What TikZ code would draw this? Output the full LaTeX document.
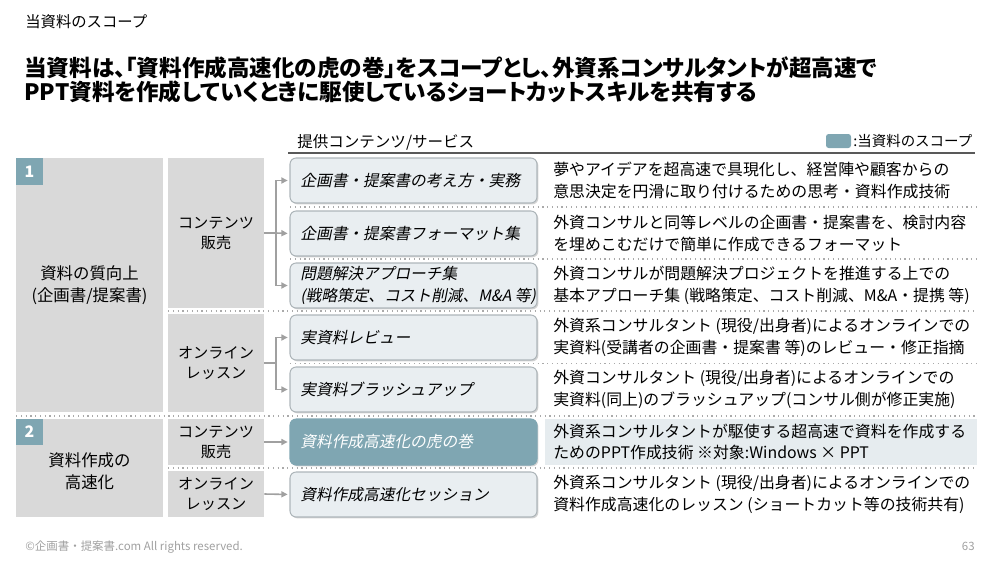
\documentclass[tikz,border=0pt]{standalone}
\usepackage{fontspec}
\setmainfont{Noto Sans CJK JP}
\newfontfamily\itfont{Noto Sans CJK JP}[FakeSlant=0.2]
\newfontfamily\titlefont{Noto Sans CJK JP}[RawFeature=+palt]
\usetikzlibrary{arrows.meta,shadows,fit}
\definecolor{boxgray}{HTML}{D9D9D9}
\definecolor{scope}{HTML}{7FA6B2}
\definecolor{cfill}{HTML}{E9EEF1}
\definecolor{cdraw}{HTML}{AEB6BA}
\definecolor{hlfill}{HTML}{E6ECEF}
\definecolor{sepgray}{HTML}{AAAAAA}
\definecolor{arrgray}{HTML}{A0A0A0}
\definecolor{foot}{HTML}{A0A0A0}
\tikzset{
  graybox/.style={fill=boxgray, draw=none, inner sep=0pt, align=center, font=\fontsize{8.6}{11.4}\selectfont},
  leftbox/.style={fill=boxgray, draw=none, inner sep=0pt, align=center, font=\fontsize{9.3}{12}\selectfont},
  badge/.style={fill=scope, draw=none, inner sep=0pt, text=white, font=\bfseries\fontsize{8.6}{10}\selectfont},
  cbox/.style={fill=cfill, draw=cdraw, line width=0.6pt, rounded corners=3.5pt, inner sep=0pt,
     drop shadow={shadow xshift=0.8pt, shadow yshift=-0.8pt, opacity=0.35}},
  sbox/.style={fill=scope, draw=scope, line width=0.6pt, rounded corners=3.5pt, inner sep=0pt,
     drop shadow={shadow xshift=0.8pt, shadow yshift=-0.8pt, opacity=0.35}},
  ctext/.style={anchor=west, inner sep=0pt, align=left, font=\itfont\fontsize{8.9}{12.4}\selectfont},
  desc/.style={anchor=west, inner sep=0pt, align=left, font=\fontsize{9}{12.4}\selectfont},
  sep/.style={draw=sepgray, line width=0.7pt, dotted},
  conn/.style={draw=arrgray, line width=0.9pt},
  arr/.style={draw=arrgray, line width=0.9pt, -{Triangle[length=3.6pt,width=3.4pt]}, shorten >=1pt},
}
\begin{document}
\begin{tikzpicture}[x=0.5669pt,y=-0.5669pt]
\useasboundingbox (0,0) rectangle (1000,565);
% header texts
\node[anchor=west, inner sep=0pt, font=\fontsize{8.7}{10}\selectfont] (toplabel) at (25,22) {当資料のスコープ};
\node[anchor=west, inner sep=0pt, align=left, font=\titlefont\bfseries\fontsize{12.8}{13.8}\selectfont] (title) at (24,80)
  {当資料は、「資料作成高速化の虎の巻」をスコープとし、外資系コンサルタントが超高速で\\PPT資料を作成していくときに駆使しているショートカットスキルを共有する};
\node[anchor=west, inner sep=0pt, font=\fontsize{8.8}{10}\selectfont] (hdr) at (297,142) {提供コンテンツ/サービス};
\draw[draw=black!65, line width=1pt] (288,153) -- (975,153);
\node[fill=scope, rounded corners=1.5pt, inner sep=0pt, fit={(826,134) (851,148)}] (legbox) {};
\node[anchor=west, inner sep=0pt, font=\fontsize{8.2}{10}\selectfont] (legtxt) at (853,141) {:当資料のスコープ};

% separators
\draw[sep] (290,207) -- (977,207);
\draw[sep] (290,259) -- (977,259);
\draw[sep] (168,311) -- (977,311);
\draw[sep] (290,363.5) -- (977,363.5);
\draw[sep] (16,416) -- (977,416);
\draw[sep] (168,468) -- (977,468);

% left column
\node[leftbox, fit={(16,158) (163,412)}] (L1) {};
\node[inner sep=0pt, align=center, font=\fontsize{9.3}{12.4}\selectfont] (L1t) at (L1.center) {資料の質向上\\(企画書/提案書)};
\node[badge, fit={(16,158) (43,185)}] (b1) {};
\node[text=white, font=\bfseries\fontsize{9}{10}\selectfont, inner sep=0pt] at (b1.center) {1};
\node[leftbox, fit={(16,419) (163,517)}] (L2) {};
\node[inner sep=0pt, align=center, font=\fontsize{9.3}{12.4}\selectfont] (L2t) at ([yshift=-2pt]L2.center) {資料作成の\\高速化};
\node[badge, fit={(16,419) (43,445)}] (b2) {};
\node[text=white, font=\bfseries\fontsize{9}{10}\selectfont, inner sep=0pt] at (b2.center) {2};

% middle column
\node[graybox, fit={(168,158) (264,308)}] (M1) {};
\node[inner sep=0pt, align=center, font=\fontsize{8.6}{11.4}\selectfont] at (M1.center) {コンテンツ\\販売};
\node[graybox, fit={(168,314) (264,412)}] (M2) {};
\node[inner sep=0pt, align=center, font=\fontsize{8.6}{11.4}\selectfont] at (M2.center) {オンライン\\レッスン};
\node[graybox, fit={(168,419) (264,465)}] (M3) {};
\node[inner sep=0pt, align=center, font=\fontsize{8.6}{11.4}\selectfont] at (M3.center) {コンテンツ\\販売};
\node[graybox, fit={(168,471) (264,517)}] (M4) {};
\node[inner sep=0pt, align=center, font=\fontsize{8.6}{11.4}\selectfont] at (M4.center) {オンライン\\レッスン};

% content boxes
\node[cbox, fit={(290,158) (537,203)}] (C1) {};
\node[cbox, fit={(290,211) (537,256)}] (C2) {};
\node[cbox, fit={(290,263) (537,308)}] (C3) {};
\node[cbox, fit={(290,315) (537,360)}] (C4) {};
\node[cbox, fit={(290,367) (537,412)}] (C5) {};
\node[sbox, fit={(290,419) (537,465)}] (C6) {};
\node[cbox, fit={(290,472) (537,517)}] (C7) {};
\node[ctext] (T1) at (300,180.5) {企画書・提案書の考え方・実務};
\node[ctext] (T2) at (300,233.5) {企画書・提案書フォーマット集};
\node[ctext] (T3) at (300,285.5) {問題解決アプローチ集\\(戦略策定、コスト削減、M\&A 等)};
\node[ctext] (T4) at (300,337.5) {実資料レビュー};
\node[ctext] (T5) at (300,389.5) {実資料ブラッシュアップ};
\node[ctext, text=white] (T6) at (300,442) {資料作成高速化の虎の巻};
\node[ctext] (T7) at (300,494.5) {資料作成高速化セッション};

% connectors
\coordinate (J1) at (276,233);
\coordinate (J2) at (276,363);
\draw[conn] (M1.east) -- (J1);
\draw[arr] (J1) |- (C1.west);
\draw[arr] (J1) -- (C2.west);
\draw[arr] (J1) |- (C3.west);
\draw[conn] (M2.east) -- (J2);
\draw[arr] (J2) |- (C4.west);
\draw[arr] (J2) |- (C5.west);
\draw[arr] (M3.east) -- (C6.west);
\draw[arr] (M4.east) -- (C7.west);

% descriptions
\fill[hlfill] (545,419) rectangle (977,465);
\node[desc] (D1) at (553,180.5) {夢やアイデアを超高速で具現化し、経営陣や顧客からの\\意思決定を円滑に取り付けるための思考・資料作成技術};
\node[desc] (D2) at (553,233.5) {外資コンサルと同等レベルの企画書・提案書を、検討内容\\を埋めこむだけで簡単に作成できるフォーマット};
\node[desc] (D3) at (553,285.5) {外資コンサルが問題解決プロジェクトを推進する上での\\基本アプローチ集 (戦略策定、コスト削減、M\&A・提携 等)};
\node[desc] (D4) at (553,337.5) {外資系コンサルタント (現役/出身者)によるオンラインでの\\実資料(受講者の企画書・提案書 等)のレビュー・修正指摘};
\node[desc] (D5) at (553,389.5) {外資コンサルタント (現役/出身者)によるオンラインでの\\実資料(同上)のブラッシュアップ(コンサル側が修正実施)};
\node[desc] (D6) at (553,442) {外資系コンサルタントが駆使する超高速で資料を作成する\\ためのPPT作成技術 ※対象:Windows × PPT};
\node[desc] (D7) at (553,494.5) {外資系コンサルタント (現役/出身者)によるオンラインでの\\資料作成高速化のレッスン (ショートカット等の技術共有)};

% footer
\node[anchor=west, inner sep=0pt, text=foot, font=\fontsize{6.5}{8}\selectfont] (footer) at (25,547) {©企画書・提案書.com All rights reserved.};
\node[anchor=east, inner sep=0pt, text=foot, font=\fontsize{6.5}{8}\selectfont] (pnum) at (975,546) {63};
\end{tikzpicture}
\end{document}
